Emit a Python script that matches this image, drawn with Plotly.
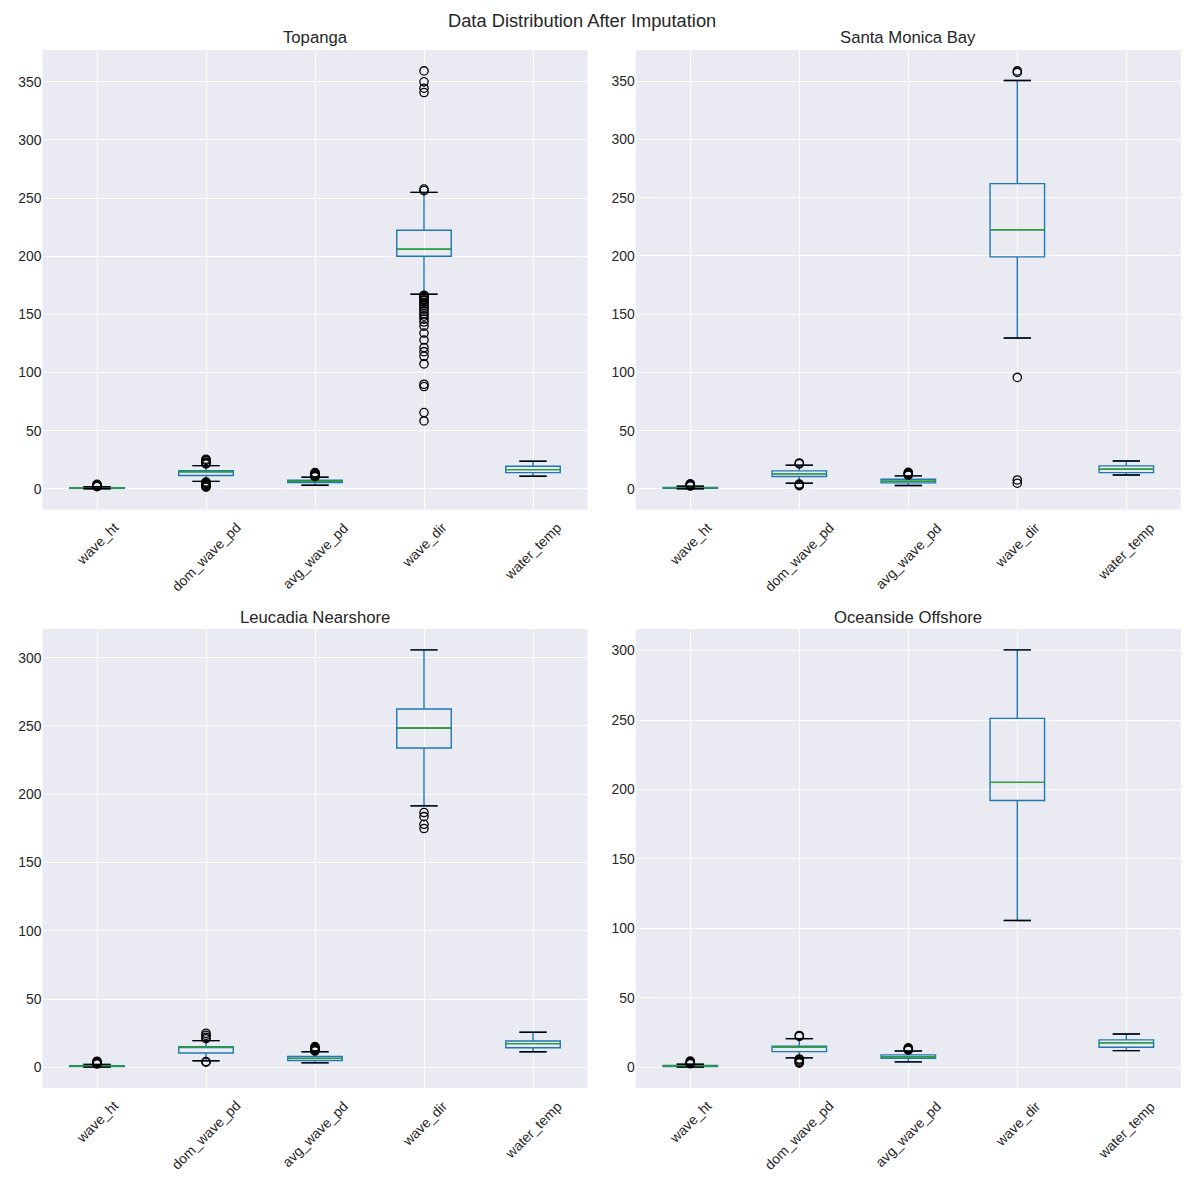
import plotly.graph_objects as go

# page size in the browser and the body margin the page adds around the figure
PAGE_W, PAGE_H = 1189, 1180
OFF = 8
W, H = PAGE_W - OFF, PAGE_H - OFF

stations = ["Topanga", "Santa Monica Bay", "Leucadia Nearshore", "Oceanside Offshore"]
variables = ["wave_ht", "dom_wave_pd", "avg_wave_pd", "wave_dir", "water_temp"]
y_ticks = [0, 50, 100, 150, 200, 250, 300, 350]

# ---- Topanga ----
topanga_lower = [0.1, 6.5, 3.2, 167.4, 10.9]
topanga_q1 = [0.5, 11.5, 5.5, 200.0, 14.0]
topanga_median = [0.8, 14.8, 6.6, 206.0, 16.6]
topanga_q3 = [1.1, 15.6, 7.6, 222.4, 19.5]
topanga_upper = [1.9, 20.0, 10.0, 255.0, 23.8]
topanga_outliers = [
    [2.0, 2.3, 2.6, 3.0, 3.4, 4.0],
    [21.5, 22.2, 23.0, 24.5, 25.5, 6.0, 5.2, 4.5, 3.8, 3.0, 2.2, 1.5],
    [10.5, 11.0, 11.6, 12.2, 12.8, 13.5, 14.0],
    [256.5, 257.8, 340.8, 344.5, 350.0, 359.4,
     166.5, 165.5, 164.3, 163.0, 162.0, 160.5, 159.0, 157.5, 156.0, 154.5,
     152.5, 150.5, 148.5, 146.0, 143.5, 140.0, 134.0, 128.0, 121.5, 118.0,
     114.0, 107.5, 90.0, 88.0, 65.6, 58.5],
    [],
]

# ---- Santa Monica Bay ----
smb_lower = [0.1, 4.9, 2.9, 129.6, 12.0]
smb_q1 = [0.6, 10.6, 5.2, 199.2, 14.0]
smb_median = [0.9, 12.9, 6.6, 222.4, 16.9]
smb_q3 = [1.3, 15.5, 8.3, 262.0, 19.8]
smb_upper = [2.3, 20.3, 11.2, 350.5, 24.0]
smb_outliers = [
    [2.5, 2.9, 3.3, 3.8, 4.3],
    [21.5, 22.3, 4.2, 3.5, 2.8],
    [11.8, 12.4, 13.0, 13.6, 14.2],
    [357.5, 358.8, 95.7, 7.7, 4.9],
    [],
]

# ---- Leucadia Nearshore ----
leu_lower = [0.2, 4.9, 3.4, 191.5, 11.5]
leu_q1 = [0.6, 10.5, 5.1, 233.8, 14.4]
leu_median = [0.9, 14.8, 6.6, 248.5, 17.4]
leu_q3 = [1.3, 15.2, 8.0, 262.4, 19.3]
leu_upper = [2.2, 19.6, 11.5, 305.7, 25.7]
leu_outliers = [
    [2.5, 3.0, 3.5, 4.0, 4.5],
    [21.0, 22.0, 23.5, 25.0, 4.3, 3.8],
    [12.0, 12.6, 13.2, 13.8, 14.5, 15.2],
    [186.6, 183.6, 178.0, 174.9],
    [],
]

# ---- Oceanside Offshore ----
oce_lower = [0.1, 6.8, 3.9, 105.7, 12.0]
oce_q1 = [0.6, 11.3, 6.4, 192.1, 14.4]
oce_median = [0.9, 14.6, 7.6, 205.1, 17.6]
oce_q3 = [1.3, 15.2, 8.9, 251.2, 19.7]
oce_upper = [2.2, 20.6, 11.7, 300.5, 24.0]
oce_outliers = [
    [2.5, 3.0, 3.5, 4.0, 4.4],
    [22.2, 22.9, 6.0, 5.2, 4.4, 3.6, 3.0],
    [12.3, 12.9, 13.5, 14.0],
    [],
    [],
]

panels = [
    (topanga_lower, topanga_q1, topanga_median, topanga_q3, topanga_upper, topanga_outliers),
    (smb_lower, smb_q1, smb_median, smb_q3, smb_upper, smb_outliers),
    (leu_lower, leu_q1, leu_median, leu_q3, leu_upper, leu_outliers),
    (oce_lower, oce_q1, oce_median, oce_q3, oce_upper, oce_outliers),
]

BOX_C = "#1f77b4"
MED_C = "#2ca02c"
TXT_C = "#262626"
BG = "#EAEAF2"
FONT = "Liberation Sans, Arial, sans-serif"
LW = 1.4

# target page-pixel layout (from top-left of the page)
x_px = [(42.5, 587.5), (635.8, 1180.8)]
y_px = [(50.0, 509.7), (629.0, 1088.0)]


def fx(px):
    return (px - OFF) / W


def fy(py):
    return 1 - (py - OFF) / H


fig = go.Figure()
annotations = []
positions = list(range(1, len(variables) + 1))

for i, (lo, q1, med, q3, up, outs) in enumerate(panels):
    r, c = divmod(i, 2)
    n = i + 1
    xa = "x" if n == 1 else f"x{n}"
    ya = "y" if n == 1 else f"y{n}"

    fig.add_trace(go.Box(
        x=positions, q1=q1, median=med, q3=q3, lowerfence=lo, upperfence=up,
        orientation="v", width=0.5, whiskerwidth=0.5,
        line=dict(color=BOX_C, width=LW), fillcolor="rgba(0,0,0,0)",
        boxpoints=False, showlegend=False, hoverinfo="skip",
        xaxis=xa, yaxis=ya,
    ))
    # medians
    mx, my = [], []
    for p, m in zip(positions, med):
        mx += [p - 0.25, p + 0.25, None]
        my += [m, m, None]
    fig.add_trace(go.Scatter(x=mx, y=my, mode="lines",
                             line=dict(color=MED_C, width=LW),
                             showlegend=False, hoverinfo="skip",
                             xaxis=xa, yaxis=ya))
    # caps
    cx, cy = [], []
    for p, a, b in zip(positions, lo, up):
        cx += [p - 0.125, p + 0.125, None, p - 0.125, p + 0.125, None]
        cy += [a, a, None, b, b, None]
    fig.add_trace(go.Scatter(x=cx, y=cy, mode="lines",
                             line=dict(color="black", width=LW),
                             showlegend=False, hoverinfo="skip",
                             xaxis=xa, yaxis=ya))
    # fliers
    ox, oy = [], []
    for p, vals in zip(positions, outs):
        ox += [p] * len(vals)
        oy += vals
    fig.add_trace(go.Scatter(x=ox, y=oy, mode="markers",
                             marker=dict(symbol="circle-open", size=8.3, color="black",
                                         line=dict(width=1.3, color="black")),
                             showlegend=False, hoverinfo="skip",
                             xaxis=xa, yaxis=ya))

    # axis ranges (matplotlib-like 5% margins)
    all_vals = lo + up + [v for vals in outs for v in vals]
    dmin, dmax = min(all_vals), max(all_vals)
    pad = 0.05 * (dmax - dmin)

    x0, x1 = x_px[c]
    yt, yb = y_px[r]

    fig.layout[("xaxis" if n == 1 else f"xaxis{n}")] = dict(
        domain=[fx(x0), fx(x1)], anchor=ya, range=[0.5, 5.5], tickvals=positions,
        showticklabels=False, showgrid=True, gridcolor="white", gridwidth=1,
        zeroline=False, showline=False, ticks="", automargin=False,
    )
    fig.layout[("yaxis" if n == 1 else f"yaxis{n}")] = dict(
        domain=[fy(yb), fy(yt)], anchor=xa, range=[dmin - pad, dmax + pad], tickvals=y_ticks,
        showgrid=True, gridcolor="white", gridwidth=1, zeroline=False,
        showline=False, ticks="", automargin=False, ticklabelstandoff=0,
        tickfont=dict(family=FONT, size=13.9, color=TXT_C),
    )

    # x tick labels rotated 45 deg, centred on tick (matplotlib style)
    for p, lab in zip(positions, variables):
        annotations.append(dict(
            x=p, xref=xa, y=fy(yb + 7), yref="paper",
            text=lab, showarrow=False, textangle=-45,
            xanchor="center", yanchor="top",
            font=dict(family=FONT, size=13.9, color=TXT_C),
        ))
    # subplot title
    annotations.append(dict(
        x=fx((x0 + x1) / 2), xref="paper", y=fy(yt - 0.5), yref="paper",
        text=stations[i], showarrow=False, xanchor="center", yanchor="bottom",
        font=dict(family=FONT, size=16.7, color=TXT_C),
    ))

annotations.append(dict(
    x=fx(582), xref="paper", y=fy(8.5), yref="paper",
    text="Data Distribution After Imputation", showarrow=False,
    xanchor="center", yanchor="top", borderpad=0,
    font=dict(family=FONT, size=18.3, color=TXT_C),
))

fig.update_layout(
    width=W, height=H, margin=dict(l=0, r=0, t=0, b=0),
    paper_bgcolor="white", plot_bgcolor=BG,
    annotations=annotations, showlegend=False,
    font=dict(family=FONT, color=TXT_C),
)

fig.write_html("out.html")
